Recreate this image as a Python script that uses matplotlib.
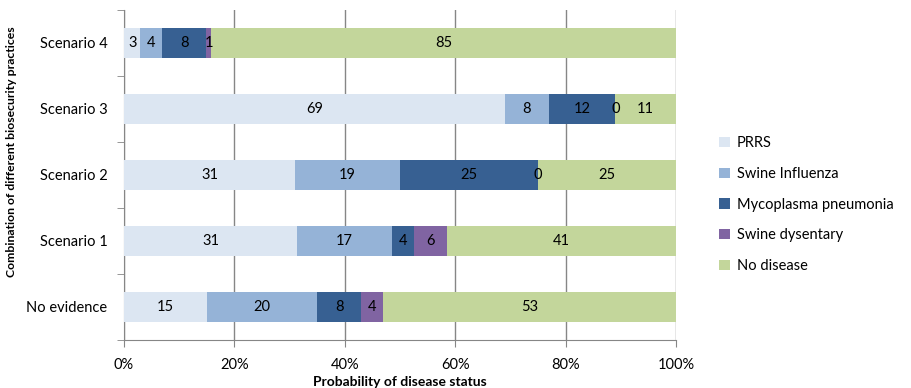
import numpy as np
from matplotlib import pyplot as plt

categories = ["No evidence", "Scenario 1", "Scenario 2", "Scenario 3", "Scenario 4"]
series_names = ["PRRS", "Swine Influenza", "Mycoplasma pneumonia", "Swine dysentary", "No disease"]
prrs = [15, 31, 31, 69, 3]
swine_influenza = [20, 17, 19, 8, 4]
mycoplasma = [8, 4, 25, 12, 8]
swine_dysentery = [4, 6, 0, 0, 1]
no_disease = [53, 41, 25, 11, 85]
x_ticks = [0, 0.2, 0.4, 0.6, 0.8, 1.0]
x_tick_labels = ["0%", "20%", "40%", "60%", "80%", "100%"]

colors = ["#DCE6F2", "#95B3D7", "#376092", "#8064A2", "#C3D69B"]


def main() -> None:
    plt.rcParams["font.family"] = ["Lato", "DejaVu Sans"]
    values = np.array([prrs, swine_influenza, mycoplasma, swine_dysentery, no_disease], dtype=float)
    shares = values / values.sum(axis=0)

    fig = plt.figure(figsize=(9.12, 3.88), dpi=100)
    ax = fig.add_axes([124 / 912, 1 - 340 / 388, 552 / 912, 330 / 388])

    y = np.arange(len(categories))
    left = np.zeros(len(categories))
    for i, name in enumerate(series_names):
        ax.barh(y, shares[i], left=left, height=0.46, color=colors[i], label=name, zorder=3)
        for j in range(len(categories)):
            ax.text(left[j] + shares[i][j] / 2, y[j], f"{int(values[i][j])}",
                    ha="center", va="center", fontsize=10.5, color="black", zorder=4)
        left += shares[i]

    ax.set_xlim(0, 1)
    ax.set_ylim(-0.5, len(categories) - 0.5)
    ax.set_xticks(x_ticks)
    ax.set_xticklabels(x_tick_labels, fontsize=10.5)
    ax.set_yticks(y)
    ax.set_yticklabels(categories, fontsize=10.5)
    ax.set_yticks(np.arange(-0.5, len(categories)), minor=True)
    ax.tick_params(axis="y", which="major", length=0, pad=12)
    ax.tick_params(axis="y", which="minor", length=5, color="#868686", direction="out")
    ax.tick_params(axis="x", length=5, color="#868686", direction="out", pad=8)
    ax.grid(axis="x", color="#868686", linewidth=1, zorder=0)
    for side in ["top", "right"]:
        ax.spines[side].set_visible(False)
    for side in ["left", "bottom"]:
        ax.spines[side].set_color("#868686")

    ax.set_xlabel("Probability of disease status", fontsize=10, fontweight="bold", labelpad=3)
    ax.set_ylabel("Combination of different biosecurity practices", fontsize=8.8,
                  fontweight="bold", va="center")
    ax.yaxis.set_label_coords(-0.203, 0.57)

    ax.legend(loc="center left", bbox_to_anchor=(1.055, 0.41), frameon=False, fontsize=10.5,
              handlelength=0.7, handleheight=0.7, handletextpad=0.5, labelspacing=1.15)

    fig.savefig("out.png", dpi=100)


if __name__ == "__main__":
    main()
